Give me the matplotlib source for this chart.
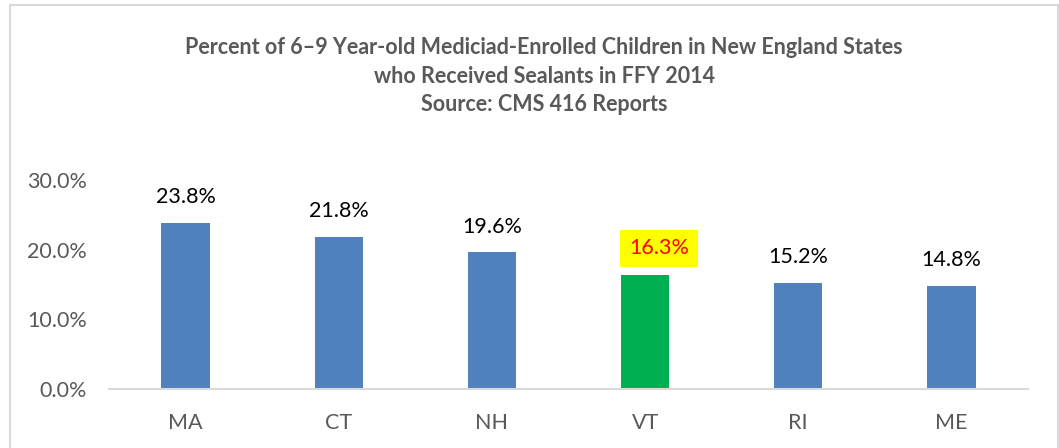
import matplotlib
matplotlib.use("Agg")
import matplotlib.pyplot as plt
from matplotlib.patches import Rectangle
from matplotlib.ticker import FuncFormatter

states = ["MA", "CT", "NH", "VT", "RI", "ME"]
percents = [23.8, 21.8, 19.6, 16.3, 15.2, 14.8]
highlight = "VT"
title_lines = [
    "Percent of 6\u20139 Year-old Mediciad-Enrolled Children in New England States",
    "who Received Sealants in FFY 2014",
    "Source: CMS 416 Reports",
]
yticks = [0, 10, 20, 30]

FONT = ["Lato", "DejaVu Sans"]
plt.rcParams["font.family"] = FONT
FS = 15.5

fig = plt.figure(figsize=(10.59, 4.48), dpi=100)
ax = fig.add_axes([109 / 1059, 1 - 389 / 448, 919 / 1059, 209 / 448])

colors = ["#00B050" if s == highlight else "#4F81BD" for s in states]
x = range(len(states))
ax.bar(x, percents, width=0.315, color=colors, zorder=2)

ax.set_xlim(-0.5, len(states) - 0.5)
ax.set_ylim(0, 30)
ax.set_yticks(yticks)
ax.yaxis.set_major_formatter(FuncFormatter(lambda v, p: f"{v:.1f}%"))
ax.set_xticks(list(x))
ax.set_xticklabels(states)
ax.tick_params(axis="both", length=0, labelsize=FS, labelcolor="#595959")
ax.tick_params(axis="y", pad=16)
ax.tick_params(axis="x", pad=17)
for side in ["top", "right", "left"]:
    ax.spines[side].set_visible(False)
ax.spines["bottom"].set_color("#D9D9D9")
ax.spines["bottom"].set_linewidth(1.5)

for i, (s, v) in enumerate(zip(states, percents)):
    if s == highlight:
        ax.annotate(f"{v:.1f}%", (i, v), xytext=(10, 19.5), textcoords="offset points",
                    ha="center", va="center", fontsize=FS, color="#FF0000",
                    bbox=dict(boxstyle="square,pad=0.4", fc="#FFFF00", ec="none"))
    else:
        ax.annotate(f"{v:.1f}%", (i, v), xytext=(0, 18.5), textcoords="offset points",
                    ha="center", va="center", fontsize=FS, color="#000000")

ys = [47, 76, 104]
for line, yy in zip(title_lines, ys):
    fig.text(544 / 1059, 1 - yy / 448, line, ha="center", va="center",
             fontsize=15.5, fontweight="bold", color="#595959")

fig.patches.append(Rectangle((9.5 / 1059, -0.05), (1057.5 - 9.5) / 1059, 1.05 - 5.5 / 448,
                             transform=fig.transFigure, fill=False,
                             ec="#D9D9D9", lw=1.5, zorder=0))

fig.savefig("out.png", dpi=100)
